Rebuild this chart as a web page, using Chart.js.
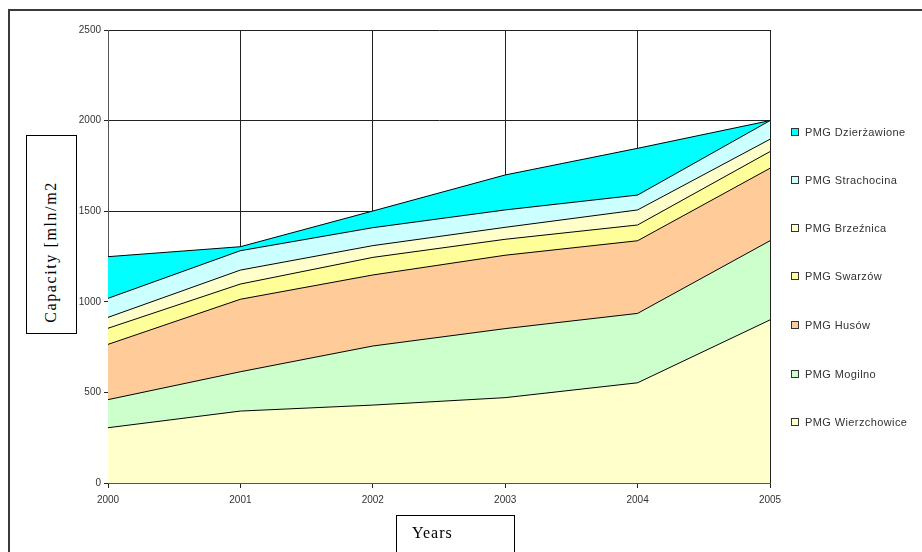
<!DOCTYPE html>
<html>
<head>
<meta charset="utf-8">
<script src="https://cdn.jsdelivr.net/npm/chart.js@4/dist/chart.umd.min.js"></script>
<style>
  html, body { margin: 0; padding: 0; background: #fff; }
  #wrap { position: relative; width: 922px; height: 552px; overflow: hidden; }
  #chart { position: absolute; left: 0; top: 0; }
  .frame { position: absolute; left: 8px; top: 9px; width: 930px; height: 560px;
           border-top: 2px solid #3a3a3a; border-left: 2px solid #3a3a3a; }
  .titlebox { position: absolute; border: 1px solid #000; background: #fff; }
  .serif { font-family: "Liberation Serif", "DejaVu Serif", serif; color: #000; white-space: nowrap; }
  #ytitle { position: absolute; left: 51px; top: 252px; font-size: 16px; letter-spacing: 1.6px;
            transform: translate(-50%, -50%) rotate(-90deg); }
  #xtitle { position: absolute; left: 412px; top: 524px; font-size: 16px; letter-spacing: 1px; }
  .leg { position: absolute; left: 791px; font-family: "Liberation Sans", Arial, sans-serif;
         font-size: 11px; letter-spacing: 0.4px; color: #333; white-space: nowrap; line-height: 11px; }
  .leg i { display: inline-block; width: 6px; height: 6px; border: 1px solid #333;
           vertical-align: 0px; margin-right: 6px; }
</style>
</head>
<body>
<div id="wrap">
  <canvas id="chart" width="922" height="552"></canvas>
  <div class="frame"></div>
  <div class="titlebox" style="left:26px; top:135px; width:49px; height:197px;"></div>
  <div id="ytitle" class="serif">Capacity [mln/m2</div>
  <div class="titlebox" style="left:396px; top:515px; width:117px; height:40px;"></div>
  <div id="xtitle" class="serif">Years</div>
  <div id="legend"></div>
</div>
<script>
// years on the x axis
const years = ['2000', '2001', '2002', '2003', '2004', '2005'];

// storage capacity per site (stacked, bottom to top)
const wierzchowice = [305, 397, 430, 471, 553, 900];
const mogilno      = [155, 217, 326, 381, 383, 437];
const husow        = [305, 400, 392, 405, 401, 400];
const swarzow      = [89, 84, 97, 88, 87, 92];
const brzeznica    = [60, 77, 65, 66, 83, 68];
const strachocina  = [105, 107, 99, 96, 82, 103];
const dzierzawione = [230, 22, 92, 193, 258, 0];

const seriesNames  = ['PMG Wierzchowice', 'PMG Mogilno', 'PMG Husów', 'PMG Swarzów',
                      'PMG Brzeźnica', 'PMG Strachocina', 'PMG Dzierżawione'];
const seriesData   = [wierzchowice, mogilno, husow, swarzow, brzeznica, strachocina, dzierzawione];
const seriesColors = ['#FFFFCC', '#CCFFCC', '#FFCC99', '#FFFF99', '#FFFFCC', '#CCFFFF', '#00FFFF'];

const yTicks = [0, 500, 1000, 1500, 2000, 2500];

const datasets = seriesNames.map((name, i) => ({
    label: name,
    data: seriesData[i],
    backgroundColor: seriesColors[i],
    borderColor: '#000',
    borderWidth: 1,
    fill: i === 0 ? 'origin' : '-1',
    pointRadius: 0,
    tension: 0
}));

const tickFont = { family: 'Liberation Sans, Arial, sans-serif', size: 10 };

new Chart(document.getElementById('chart'), {
    type: 'line',
    data: { labels: years, datasets: datasets },
    options: {
        responsive: false,
        animation: false,
        layout: { padding: { left: 0, right: 152, top: 30, bottom: 0 } },
        plugins: { legend: { display: false }, tooltip: { enabled: false } },
        scales: {
            x: {
                offset: false,
                grid: { color: '#222', lineWidth: 1, tickLength: 5 },
                border: { color: '#555', width: 1 },
                ticks: { color: '#333', font: tickFont, padding: 6, maxRotation: 0 },
                afterFit: s => { s.height = 69; }
            },
            y: {
                stacked: true,
                min: 0,
                max: 2500,
                afterBuildTicks: s => { s.ticks = yTicks.map(v => ({ value: v })); },
                grid: { color: '#222', lineWidth: 1, tickLength: 4 },
                border: { color: '#555', width: 1 },
                ticks: { color: '#333', font: tickFont, padding: 3, callback: v => String(v) },
                afterFit: s => { s.width = 108; }
            }
        }
    }
});

// legend, top entry first
const legend = document.getElementById('legend');
const legendTop = [127, 175, 223, 271, 320, 369, 417];
for (let k = 0; k < seriesNames.length; k++) {
    const i = seriesNames.length - 1 - k;
    const row = document.createElement('div');
    row.className = 'leg';
    row.style.top = legendTop[k] + 'px';
    row.innerHTML = '<i style="background:' + seriesColors[i] + '"></i>' + seriesNames[i];
    legend.appendChild(row);
}
</script>
</body>
</html>
